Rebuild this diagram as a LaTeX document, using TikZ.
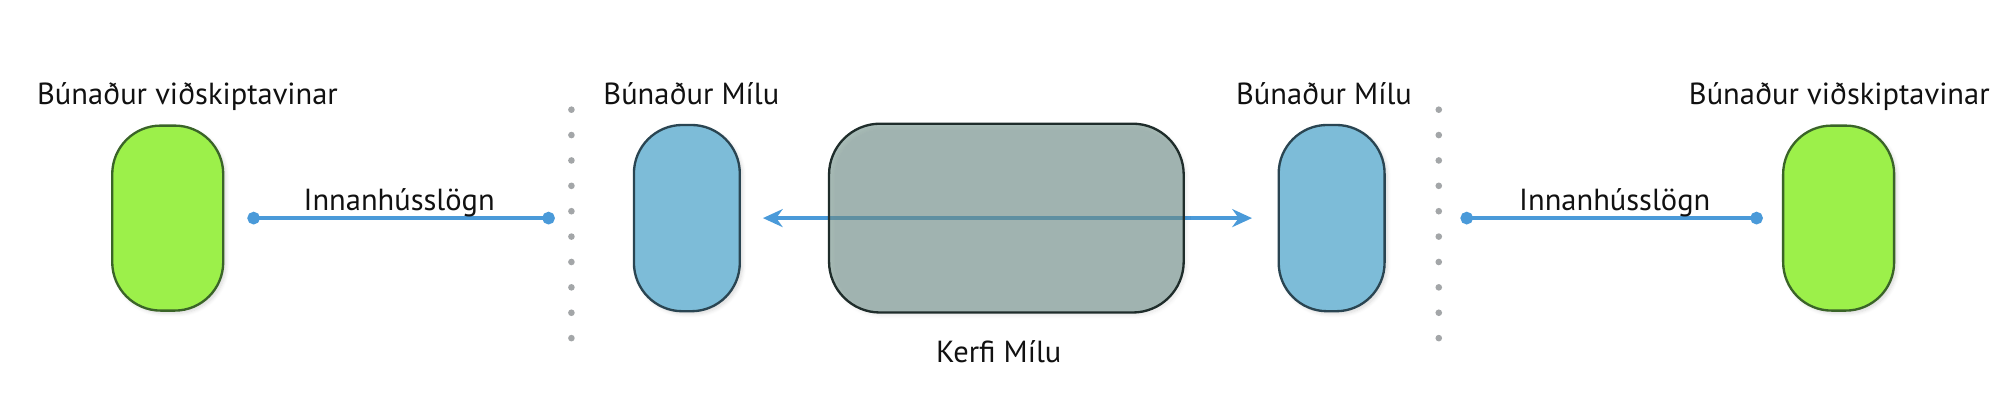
\documentclass[tikz,border=0pt]{standalone}
\usepackage{fontspec}
\setmainfont{PT Sans}
\usepackage{tikz}
\usetikzlibrary{arrows.meta,shadows.blur}
\definecolor{ink}{HTML}{111111}
\definecolor{lime}{HTML}{9CF04A}
\definecolor{limeedge}{HTML}{3A6428}
\definecolor{sky}{HTML}{7DBCD8}
\definecolor{skyedge}{HTML}{2A4552}
\definecolor{slate}{HTML}{71918A}
\definecolor{slateedge}{HTML}{1F2D2B}
\definecolor{wire}{HTML}{4A9AD9}
\definecolor{dotgray}{HTML}{A3A6A8}
\tikzset{
  softshadow/.style={blur shadow={shadow blur steps=6, shadow xshift=1.5pt, shadow yshift=-1.5pt, shadow opacity=15}},
  custbox/.style={draw=limeedge, fill=lime, line width=1.3pt, rounded corners=0.95cm, minimum width=2.175cm, minimum height=3.625cm, softshadow},
  milubox/.style={draw=skyedge, fill=sky, line width=1.3pt, rounded corners=0.95cm, minimum width=2.075cm, minimum height=3.65cm, softshadow},
  kerfibox/.style={draw=slateedge, fill=slate, fill opacity=0.6, line width=1.3pt, rounded corners=1cm, minimum width=6.95cm, minimum height=3.7cm, softshadow},
  cable/.style={draw=wire, line width=2pt, {Circle[length=7pt]}-{Circle[length=7pt]}},
  link/.style={draw=wire, line width=2pt, {Stealth[length=11pt,width=10pt]}-{Stealth[length=11pt,width=10pt]}},
  wall/.style={fill=dotgray},
  lab/.style={text=ink, font=\fontsize{17}{20}\selectfont, anchor=base, inner sep=0pt},
}

\begin{document}
\begin{tikzpicture}[x=0.025cm, y=0.025cm]
  \useasboundingbox (0,0) rectangle (1568,319);

  % boxes
  \node[custbox] (custL) at (131.5,148) {};
  \node[milubox] (miluL) at (538.5,148) {};
  \node[milubox] (miluR) at (1044,148) {};
  \node[custbox] (custR) at (1441.5,148) {};

  % the walls
  \coordinate (wallL) at (448,148);
  \coordinate (wallR) at (1128,148);
  \foreach \k in {0,...,9} {
    \fill[wall] (448,{233-\k*19.9}) circle (2.6);
    \fill[wall] (1128,{233-\k*19.9}) circle (2.6);
  }

  \draw[link, shorten <=0.43cm, shorten >=0.5cm] (miluL) -- (miluR);
  \node[kerfibox] (kerfi) at (789,148) {};

  \draw[cable] ([xshift=0.45cm]custL.east) -- ([xshift=-0.325cm]wallL);
  \draw[cable] ([xshift=0.425cm]wallR) -- ([xshift=-0.375cm]custR.west);

  % labels
  \node[lab] (custLlab) at (147,237) {Búnaður viðskiptavinar};
  \node[lab] (miluLlab) at (542,237) {Búnaður Mílu};
  \node[lab] (miluRlab) at (1038,237) {Búnaður Mílu};
  \node[lab] (custRlab) at (1442,237) {Búnaður viðskiptavinar};
  \node[lab] (cableLlab) at (313,154) {Innanhússlögn};
  \node[lab] (cableRlab) at (1266,154) {Innanhússlögn};
  \node[lab] (kerfilab) at (783,35) {Kerfi Mílu};
\end{tikzpicture}
\end{document}
